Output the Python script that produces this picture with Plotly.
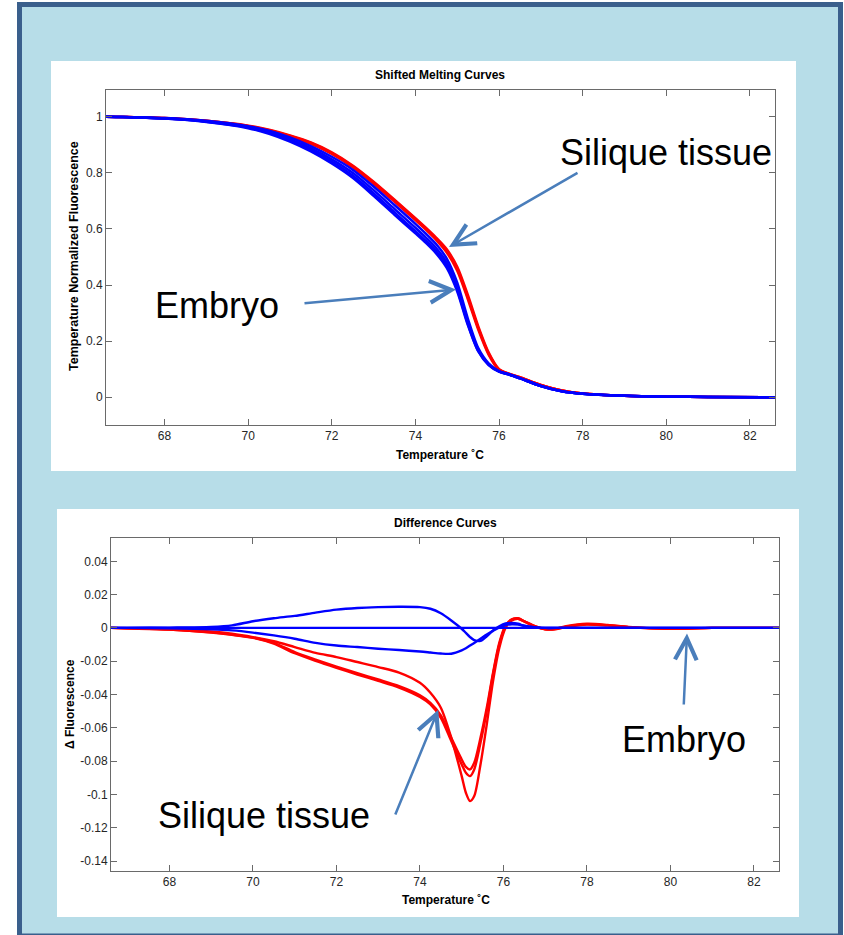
import plotly.graph_objects as go

W, H = 844, 935

# ---------------- data ----------------
T_TOP = [66.6, 67.0, 68.0, 69.0, 70.0, 70.5, 71.0, 71.5, 72.0, 72.5, 73.0, 73.5, 74.0, 74.25, 74.5,
         74.75, 75.0, 75.25, 75.5, 75.75, 76.0, 76.25, 76.5, 77.0, 77.5, 78.0, 79.0, 80.0, 81.0, 82.6]

SILIQUE_MELT_1 = [1.000, 0.999, 0.995, 0.985, 0.968, 0.953, 0.933, 0.908, 0.873, 0.826, 0.768, 0.704, 0.638, 0.604, 0.568,
                  0.527, 0.465, 0.366, 0.254, 0.160, 0.100, 0.083, 0.071, 0.044, 0.024, 0.013, 0.005, 0.002, 0.001, 0.000]
SILIQUE_MELT_2 = [1.000, 0.999, 0.994, 0.984, 0.966, 0.950, 0.929, 0.903, 0.867, 0.820, 0.761, 0.697, 0.631, 0.597, 0.560,
                  0.516, 0.451, 0.351, 0.242, 0.152, 0.097, 0.082, 0.070, 0.043, 0.024, 0.013, 0.005, 0.002, 0.001, 0.000]
SILIQUE_MELT_3 = [1.000, 0.999, 0.995, 0.985, 0.967, 0.952, 0.931, 0.906, 0.870, 0.823, 0.765, 0.701, 0.635, 0.600, 0.564,
                  0.522, 0.458, 0.358, 0.248, 0.156, 0.099, 0.083, 0.071, 0.044, 0.024, 0.013, 0.005, 0.002, 0.001, 0.000]

EMBRYO_MELT_1 = [1.000, 0.999, 0.995, 0.985, 0.966, 0.950, 0.926, 0.895, 0.857, 0.811, 0.751, 0.685, 0.618, 0.583, 0.545,
                 0.494, 0.408, 0.282, 0.176, 0.121, 0.093, 0.081, 0.068, 0.040, 0.021, 0.012, 0.005, 0.002, 0.001, 0.000]
EMBRYO_MELT_2 = [1.000, 0.999, 0.994, 0.983, 0.963, 0.946, 0.920, 0.888, 0.848, 0.800, 0.738, 0.671, 0.604, 0.569, 0.531,
                 0.480, 0.394, 0.270, 0.170, 0.118, 0.092, 0.081, 0.068, 0.040, 0.021, 0.012, 0.005, 0.002, 0.001, 0.000]
EMBRYO_MELT_3 = [1.000, 0.999, 0.993, 0.982, 0.961, 0.942, 0.915, 0.882, 0.840, 0.790, 0.727, 0.659, 0.592, 0.557, 0.520,
                 0.469, 0.384, 0.263, 0.166, 0.116, 0.091, 0.080, 0.067, 0.040, 0.021, 0.012, 0.005, 0.002, 0.001, 0.000]
EMBRYO_MELT_4 = [1.000, 0.999, 0.993, 0.981, 0.959, 0.939, 0.911, 0.876, 0.833, 0.782, 0.718, 0.650, 0.584, 0.550, 0.512,
                 0.461, 0.377, 0.259, 0.164, 0.115, 0.091, 0.080, 0.067, 0.040, 0.021, 0.012, 0.005, 0.002, 0.001, 0.000]

T_DIFF = [66.6, 67.0, 68.0, 69.0, 69.5, 70.0, 70.5, 71.0, 71.5, 72.0, 72.5, 73.0, 73.5, 74.0, 74.25, 74.5, 74.75,
          75.0, 75.1, 75.2, 75.3, 75.45, 75.6, 75.75, 75.9, 76.05, 76.2, 76.35, 76.5, 76.75, 77.0, 77.25, 77.5, 78.0,
          78.5, 79.0, 80.0, 81.0, 82.6]

SILIQUE_DIFF_A = [0.0, -0.0002, -0.0008, -0.0022, -0.0035, -0.0055, -0.008, -0.0115, -0.015, -0.0175, -0.0205, -0.0235,
                  -0.0268, -0.033, -0.039, -0.048, -0.066, -0.089, -0.099, -0.104, -0.101, -0.082, -0.058, -0.032,
                  -0.012, 0.0, 0.0045, 0.0055, 0.004, 0.001, -0.0008, -0.0008, 0.0005, 0.002, 0.0015, 0.0005,
                  -0.0005, 0.0, 0.0]
SILIQUE_DIFF_B = [0.0, -0.0003, -0.001, -0.0028, -0.0042, -0.006, -0.0095, -0.0152, -0.0198, -0.024, -0.028, -0.0318,
                  -0.0358, -0.0415, -0.046, -0.054, -0.068, -0.082, -0.087, -0.089, -0.085, -0.069, -0.050, -0.028,
                  -0.010, 0.001, 0.005, 0.0055, 0.0038, 0.0008, -0.0008, -0.0006, 0.0008, 0.0022, 0.0015, 0.0005,
                  -0.0005, 0.0, 0.0]
SILIQUE_DIFF_C = [0.0, -0.0003, -0.001, -0.0027, -0.004, -0.0058, -0.009, -0.0145, -0.019, -0.0232, -0.0272, -0.031,
                  -0.035, -0.0405, -0.045, -0.0525, -0.066, -0.079, -0.0835, -0.085, -0.081, -0.066, -0.048, -0.027,
                  -0.009, 0.0015, 0.0052, 0.0058, 0.004, 0.001, -0.0007, -0.0005, 0.001, 0.0025, 0.0018, 0.0006,
                  -0.0004, 0.0, 0.0]

EMBRYO_DIFF_REF = [0.0, 0.0, 0.0, 0.0, 0.0, 0.0, 0.0, 0.0, 0.0, 0.0, 0.0, 0.0, 0.0, 0.0, 0.0, 0.0, 0.0, 0.0, 0.0,
                   0.0, 0.0, 0.0, 0.0, 0.0, 0.0, 0.0, 0.0, 0.0, 0.0, 0.0, 0.0, 0.0, 0.0, 0.0, 0.0, 0.0, 0.0, 0.0, 0.0]
EMBRYO_DIFF_UP = [0.0, 0.0, 0.0002, 0.0006, 0.0015, 0.004, 0.0058, 0.0072, 0.0092, 0.011, 0.012, 0.0125, 0.0127,
                  0.0125, 0.0115, 0.0088, 0.0045, -0.0005, -0.003, -0.0055, -0.0073, -0.0078, -0.005, -0.0015, 0.001,
                  0.0027, 0.003, 0.0025, 0.0012, 0.0003, 0.0, 0.0, 0.0, 0.0, 0.0, 0.0, 0.0, 0.0, 0.0]
EMBRYO_DIFF_DOWN = [0.0, 0.0, -0.0002, -0.0008, -0.0015, -0.0028, -0.0045, -0.0065, -0.009, -0.0106, -0.0115, -0.0125,
                    -0.0133, -0.0142, -0.0148, -0.0154, -0.0155, -0.0135, -0.0122, -0.0106, -0.009, -0.0065, -0.004,
                    -0.0018, 0.0003, 0.0017, 0.0022, 0.002, 0.0013, 0.0004, 0.0, 0.0, 0.0, 0.0, 0.0, 0.0, 0.0, 0.0, 0.0]

X_TICKS = [68, 70, 72, 74, 76, 78, 80, 82]
X_TICK_TEXT = ["68", "70", "72", "74", "76", "78", "80", "82"]
Y_TOP_TICKS = [0, 0.2, 0.4, 0.6, 0.8, 1]
Y_TOP_TICK_TEXT = ["0", "0.2", "0.4", "0.6", "0.8", "1"]
Y_DIFF_TICKS = [0.04, 0.02, 0, -0.02, -0.04, -0.06, -0.08, -0.1, -0.12, -0.14]
Y_DIFF_TICK_TEXT = ["0.04", "0.02", "0", "-0.02", "-0.04", "-0.06", "-0.08", "-0.1", "-0.12", "-0.14"]

TITLE_TOP = "Shifted Melting Curves"
TITLE_DIFF = "Difference Curves"
XLABEL = "Temperature \u02daC"
YLABEL_TOP = "Temperature Normalized Fluorescence"
YLABEL_DIFF = "\u0394 Fluorescence"
LABEL_SILIQUE = "Silique tissue"
LABEL_EMBRYO = "Embryo"

# ---------------- style ----------------
RED = "#ff0000"
BLUE = "#0000ff"
ARROW = "#4a7ebb"
BG_BLUE = "#b7dde8"
FRAME = "#3a5f8c"
AXC = "#6a6a6a"
FONT = "Liberation Sans, Arial, sans-serif"


def px(x):
    return x / W


def py(y):
    return 1 - y / H


fig = go.Figure()

for ys in [SILIQUE_MELT_1, SILIQUE_MELT_2, SILIQUE_MELT_3]:
    fig.add_trace(go.Scatter(x=T_TOP, y=ys, mode="lines", xaxis="x", yaxis="y",
                             line=dict(color=RED, width=2.5, shape="spline", smoothing=0.8),
                             showlegend=False, hoverinfo="skip"))
for ys in [EMBRYO_MELT_1, EMBRYO_MELT_2, EMBRYO_MELT_3, EMBRYO_MELT_4]:
    fig.add_trace(go.Scatter(x=T_TOP, y=ys, mode="lines", xaxis="x", yaxis="y",
                             line=dict(color=BLUE, width=2.5, shape="spline", smoothing=0.8),
                             showlegend=False, hoverinfo="skip"))

for ys in [SILIQUE_DIFF_A, SILIQUE_DIFF_B, SILIQUE_DIFF_C]:
    fig.add_trace(go.Scatter(x=T_DIFF, y=ys, mode="lines", xaxis="x2", yaxis="y2",
                             line=dict(color=RED, width=2.4, shape="spline", smoothing=0.8),
                             showlegend=False, hoverinfo="skip"))
for ys in [EMBRYO_DIFF_REF, EMBRYO_DIFF_UP, EMBRYO_DIFF_DOWN]:
    fig.add_trace(go.Scatter(x=T_DIFF, y=ys, mode="lines", xaxis="x2", yaxis="y2",
                             line=dict(color=BLUE, width=2.4, shape="spline", smoothing=0.8),
                             showlegend=False, hoverinfo="skip"))

axis_common = dict(showline=True, linecolor=AXC, linewidth=1, mirror="allticks",
                   ticks="inside", ticklen=6, tickcolor=AXC, tickwidth=1,
                   showgrid=False, zeroline=False,
                   tickfont=dict(family=FONT, size=12, color="#262626"))

fig.update_layout(
    width=W, height=H, margin=dict(l=0, r=0, t=0, b=0),
    paper_bgcolor="white", plot_bgcolor="white",
    xaxis=dict(domain=[px(106), px(775)], range=[66.6, 82.6], anchor="y",
               tickvals=X_TICKS, ticktext=X_TICK_TEXT, **axis_common),
    yaxis=dict(domain=[py(425), py(90)], range=[-0.099, 1.095], anchor="x",
               tickvals=Y_TOP_TICKS, ticktext=Y_TOP_TICK_TEXT, **axis_common),
    xaxis2=dict(domain=[px(111), px(779)], range=[66.6, 82.6], anchor="y2",
                tickvals=X_TICKS, ticktext=X_TICK_TEXT, **axis_common),
    yaxis2=dict(domain=[py(871), py(538)], range=[-0.146, 0.054], anchor="x2",
                tickvals=Y_DIFF_TICKS, ticktext=Y_DIFF_TICK_TEXT, **axis_common),
)

shapes = [
    dict(type="rect", xref="paper", yref="paper", x0=px(19.5), x1=px(840.5), y0=py(936), y1=py(4.5),
         line=dict(color=FRAME, width=5), fillcolor=BG_BLUE, layer="below"),
    dict(type="rect", xref="paper", yref="paper", x0=px(51), x1=px(796), y0=py(471), y1=py(61),
         line=dict(width=0), fillcolor="white", layer="below"),
    dict(type="rect", xref="paper", yref="paper", x0=px(57), x1=px(799), y0=py(917), y1=py(509),
         line=dict(width=0), fillcolor="white", layer="below"),
]
fig.update_layout(shapes=shapes)

ann = []


def text(x, y, s, size, bold=False, angle=0, color="black"):
    ann.append(dict(xref="paper", yref="paper", x=px(x), y=py(y), text=("<b>%s</b>" % s) if bold else s,
                    showarrow=False, xanchor="center", yanchor="middle", textangle=angle,
                    font=dict(family=FONT, size=size, color=color)))


def arrow(tipx, tipy, tailx, taily):
    ann.append(dict(xref="paper", yref="paper", x=px(tipx), y=py(tipy), ax=tailx - tipx, ay=taily - tipy,
                    axref="pixel", ayref="pixel", text="", showarrow=True, arrowhead=5, arrowsize=1.7,
                    arrowwidth=2.5, arrowcolor=ARROW, standoff=0))


text(440, 75, TITLE_TOP, 12, bold=True)
text(445, 523, TITLE_DIFF, 12, bold=True)
text(440, 455, XLABEL, 12, bold=True)
text(446, 900, XLABEL, 12, bold=True)
text(74, 256, YLABEL_TOP, 12.5, bold=True, angle=-90)
text(70, 704, YLABEL_DIFF, 12, bold=True, angle=-90)

text(665.5, 152.5, LABEL_SILIQUE, 36)
text(217.5, 305, LABEL_EMBRYO, 36)
text(263.5, 815.5, LABEL_SILIQUE, 36)
text(683.5, 739, LABEL_EMBRYO, 36)

arrow(449, 247, 579, 172)
arrow(456, 289.5, 303, 303.3)
arrow(438.3, 709.7, 394.7, 816)
arrow(687, 633.5, 683.7, 706)

fig.update_layout(annotations=ann)

fig.write_html("out.html")
